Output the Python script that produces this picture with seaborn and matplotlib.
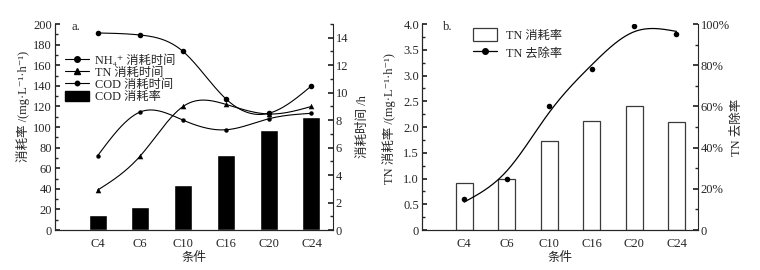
import numpy as np
import pandas as pd
import matplotlib
matplotlib.use("Agg")
import matplotlib.pyplot as plt
from matplotlib.ticker import MultipleLocator, FuncFormatter
from matplotlib.lines import Line2D
from matplotlib.patches import Patch
import seaborn as sns

# ---------------- data ----------------
conditions = ["C4", "C6", "C10", "C16", "C20", "C24"]
cod_rate = [15, 22, 44, 73, 97, 110]            # COD 消耗率 (left axis, panel a)
nh4_time = [14.35, 14.2, 13.0, 9.55, 8.5, 10.5]  # NH4+ 消耗时间 /h
tn_time = [2.9, 5.4, 9.0, 9.15, 8.45, 9.0]       # TN 消耗时间 /h
cod_time = [5.4, 8.6, 8.0, 7.3, 8.1, 8.5]        # COD 消耗时间 /h
tn_rate = [0.92, 1.0, 1.72, 2.12, 2.4, 2.1]      # TN 消耗率 (panel b)
tn_removal = [15, 25, 60, 78, 99, 95]            # TN 去除率 %

sns.set_theme(style="ticks")
plt.rcParams["font.family"] = ["Liberation Serif", "Noto Sans CJK SC", "DejaVu Sans"]
plt.rcParams["axes.linewidth"] = 0.8
plt.rcParams["xtick.direction"] = "in"
plt.rcParams["ytick.direction"] = "in"

FS_TICK = 9
FS_LAB = 9
FS_LEG = 8.8


def natural_spline(x, y, xs):
    x = np.asarray(x, float)
    y = np.asarray(y, float)
    n = len(x)
    h = np.diff(x)
    A = np.zeros((n, n))
    b = np.zeros(n)
    A[0, 0] = A[-1, -1] = 1
    for i in range(1, n - 1):
        A[i, i - 1] = h[i - 1]
        A[i, i] = 2 * (h[i - 1] + h[i])
        A[i, i + 1] = h[i]
        b[i] = 3 * ((y[i + 1] - y[i]) / h[i] - (y[i] - y[i - 1]) / h[i - 1])
    c = np.linalg.solve(A, b)
    out = np.empty_like(xs)
    for k, xv in enumerate(xs):
        i = min(max(np.searchsorted(x, xv) - 1, 0), n - 2)
        dx = xv - x[i]
        bi = (y[i + 1] - y[i]) / h[i] - h[i] * (2 * c[i] + c[i + 1]) / 3
        di = (c[i + 1] - c[i]) / (3 * h[i])
        out[k] = y[i] + bi * dx + c[i] * dx ** 2 + di * dx ** 3
    return out


def smoothing_spline(x, y, xs, lam):
    """Reinsch smoothing spline (unit spacing) evaluated on xs."""
    y = np.asarray(y, float)
    n = len(y)
    Q = np.zeros((n, n - 2))
    R = np.zeros((n - 2, n - 2))
    for j in range(n - 2):
        Q[j, j], Q[j + 1, j], Q[j + 2, j] = 1, -2, 1
        R[j, j] = 2 / 3
        if j + 1 < n - 2:
            R[j, j + 1] = R[j + 1, j] = 1 / 6
    K = Q @ np.linalg.solve(R, Q.T)
    fitted = np.linalg.solve(np.eye(n) + lam * K, y)
    return natural_spline(x, fitted, xs)


pos = np.arange(len(conditions))
xs = np.linspace(0, len(conditions) - 1, 300)

fig = plt.figure(figsize=(7.6, 2.7), dpi=100)
ax1 = fig.add_axes([0.072, 0.148, 0.366, 0.763])
ax3 = fig.add_axes([0.555, 0.148, 0.363, 0.763])

# ---------------- panel a ----------------
df_a = pd.DataFrame({"cond": conditions, "rate": cod_rate})
sns.barplot(data=df_a, x="cond", y="rate", color="black", width=0.42,
            saturation=1, ax=ax1)
ax1.set_xlim(-1, 5.5)
ax1.set_ylim(0, 200)
ax1.yaxis.set_major_locator(MultipleLocator(20))
ax1.yaxis.set_minor_locator(MultipleLocator(10))
ax1.set_xlabel("条件", fontsize=FS_LAB, labelpad=1)
ax1.set_ylabel("消耗率 /(mg·L⁻¹·h⁻¹)", fontsize=FS_LAB)
ax1.yaxis.set_label_coords(-0.09, 0.6)
ax1.tick_params(axis="x", length=0, labelsize=FS_TICK, pad=6)
ax1.tick_params(axis="y", which="major", length=3.5, labelsize=FS_TICK, pad=2)
ax1.tick_params(axis="y", which="minor", length=2)
ax1.spines["top"].set_visible(False)
ax1.spines["right"].set_visible(False)

ax2 = ax1.twinx()
for vals, mk, ms in [(nh4_time, "o", 4), (tn_time, "^", 4), (cod_time, "o", 3.2)]:
    ax2.plot(xs, natural_spline(pos, vals, xs), color="black", lw=0.8)
    sns.scatterplot(x=pos, y=vals, marker=mk, s=ms ** 2, color="black",
                    edgecolor="black", linewidth=0, ax=ax2)
ax2.set_ylim(0, 15)
ax2.yaxis.set_major_locator(MultipleLocator(2))
ax2.yaxis.set_minor_locator(MultipleLocator(1))
ax2.set_ylabel("消耗时间 /h", fontsize=FS_LAB)
ax2.yaxis.set_label_coords(1.087, 0.5)
ax2.tick_params(axis="y", which="major", length=3.5, labelsize=FS_TICK, pad=2)
ax2.tick_params(axis="y", which="minor", length=2)
ax2.spines["top"].set_visible(False)
ax2.text(0.06, 0.985, "a.", transform=ax2.transAxes, fontsize=FS_TICK, va="center")

handles_a = [
    Line2D([], [], color="black", lw=0.8, marker="o", ms=4),
    Line2D([], [], color="black", lw=0.8, marker="^", ms=4),
    Line2D([], [], color="black", lw=0.8, marker="o", ms=3.2),
    Patch(facecolor="black", edgecolor="black"),
]
labels_a = ["NH₄⁺ 消耗时间", "TN 消耗时间", "COD 消耗时间", "COD 消耗率"]
ax2.legend(handles_a, labels_a, loc="upper left", bbox_to_anchor=(0.012, 0.89),
           frameon=False, fontsize=FS_LEG, handlelength=1.9, handletextpad=0.5,
           labelspacing=0.0, borderpad=0.1, handleheight=0.9)

# ---------------- panel b ----------------
df_b = pd.DataFrame({"cond": conditions, "rate": tn_rate})
sns.barplot(data=df_b, x="cond", y="rate", color="white", edgecolor="#3a3a3a",
            linewidth=0.9, width=0.4, saturation=1, ax=ax3)
ax3.set_xlim(-1, 5.5)
ax3.set_ylim(0, 4.0)
ax3.yaxis.set_major_locator(MultipleLocator(0.5))
ax3.yaxis.set_minor_locator(MultipleLocator(0.25))
ax3.yaxis.set_major_formatter(FuncFormatter(lambda v, p: "0" if v == 0 else f"{v:.1f}"))
ax3.set_xlabel("条件", fontsize=FS_LAB, labelpad=1)
ax3.set_ylabel("TN 消耗率 /(mg·L⁻¹·h⁻¹)", fontsize=FS_LAB)
ax3.yaxis.set_label_coords(-0.095, 0.54)
ax3.tick_params(axis="x", length=0, labelsize=FS_TICK, pad=6)
ax3.tick_params(axis="y", which="major", length=3.5, labelsize=FS_TICK, pad=2)
ax3.tick_params(axis="y", which="minor", length=2)
ax3.spines["top"].set_visible(False)
ax3.spines["right"].set_visible(False)

ax4 = ax3.twinx()
ax4.plot(xs, smoothing_spline(pos, tn_removal, xs, 0.06), color="black", lw=0.9)
sns.scatterplot(x=pos, y=tn_removal, marker="o", s=16, color="black",
                edgecolor="black", linewidth=0, ax=ax4)
ax4.set_ylim(0, 100)
ax4.yaxis.set_major_locator(MultipleLocator(20))
ax4.yaxis.set_minor_locator(MultipleLocator(10))
ax4.yaxis.set_major_formatter(FuncFormatter(lambda v, p: "0" if v == 0 else f"{v:.0f}%"))
ax4.set_ylabel("TN 去除率", fontsize=FS_LAB)
ax4.yaxis.set_label_coords(1.12, 0.5)
ax4.tick_params(axis="y", which="major", length=3.5, labelsize=FS_TICK, pad=2)
ax4.tick_params(axis="y", which="minor", length=2)
ax4.spines["top"].set_visible(False)
ax4.text(0.076, 0.985, "b.", transform=ax4.transAxes, fontsize=FS_TICK, va="center")

handles_b = [
    Patch(facecolor="white", edgecolor="#3a3a3a", linewidth=0.9),
    Line2D([], [], color="black", lw=0.9, marker="o", ms=4),
]
ax4.legend(handles_b, ["TN 消耗率", "TN 去除率"], loc="upper left",
           bbox_to_anchor=(0.153, 1.02), frameon=False, fontsize=FS_LEG,
           handlelength=2.0, handleheight=1.2, handletextpad=0.7,
           labelspacing=0.35, borderpad=0.2)

fig.savefig("out.png", dpi=100)
